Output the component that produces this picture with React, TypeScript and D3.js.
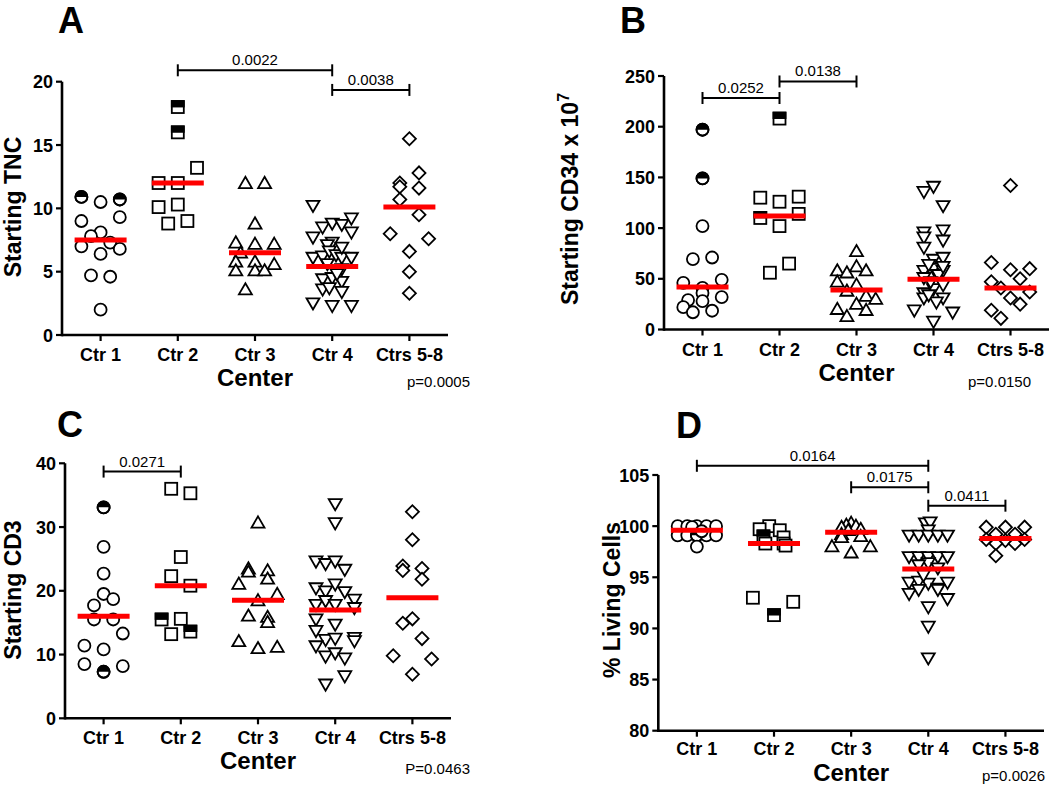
import React from "react";
import * as d3 from "d3";

const categories = ["Ctr 1", "Ctr 2", "Ctr 3", "Ctr 4", "Ctrs 5-8"];
const shapeByCategory = ["circle", "square", "triangle", "triangleDown", "diamond"];

// ---------- Panel A: Starting TNC ----------
const tncValues = [
  [10.9, 10.7, 10.5, 9.0, 9.3, 8.1, 7.8, 7.0, 7.3, 6.8, 6.4, 4.7, 4.6, 2.0],
  [18.0, 16.0, 13.2, 12.0, 12.0, 10.1, 10.3, 8.8, 9.0],
  [11.9, 11.9, 8.7, 7.2, 7.1, 7.1, 6.4, 5.7, 5.7, 5.5, 5.0, 5.0, 5.0, 3.5],
  [10.3, 8.6, 8.9, 8.8, 9.3, 7.8, 7.4, 8.2, 7.2, 6.2, 6.3, 6.7, 6.4, 6.2, 6.2, 5.7, 5.3, 4.5, 4.6, 4.3, 3.7, 3.8, 3.5, 2.6, 2.4, 2.4, 4.9, 7.0],
  [15.5, 12.8, 12.0, 11.7, 11.6, 10.7, 9.5, 8.0, 7.6, 6.6, 5.0, 3.3],
];
const tncJitter = [
  [-2, 2, 0, -2, 2, 0, -1, -2, 1, 2, 0, -1, 1, 0],
  [0, 0, 2, -2, 0, -2, 0, -1, 1],
  [-1, 1, 0, -2, 0, 2, -1.5, -2, 0, 2, -2, 0, 1, -1],
  [-2, -1, 0, 1, 2, -2, 0, 2, -0.5, -2, -1, -0.3, 0.4, 1, 2, -0.5, 1, -1, 0, 1, -1, -0.3, 1, -2, 0, 2, 0.5, 1],
  [0, 1, -1, -1, 1, -1, 1, -2, 2, 0, 0, 0],
];
const tncHalf = [[0, 1], [0, 1], [], [], []];
const tncMedians = [7.5, 12.0, 6.5, 5.4, 10.1];
const tncTicks = [0, 5, 10, 15, 20];
const tncBrackets = [
  { from: 1, to: 3, at: 20.9, label: "0.0022" },
  { from: 3, to: 4, at: 19.35, label: "0.0038" },
];

// ---------- Panel B: Starting CD34 ----------
const cd34Values = [
  [197, 149, 102, 69.5, 71, 46, 49, 41, 36, 29, 32, 28, 22, 17, 18.5],
  [208, 130, 126, 131, 114, 110, 102, 56, 65],
  [76, 57, 55, 61, 57, 46, 43, 37, 32, 29, 19, 24, 18, 12],
  [137, 142, 123, 97, 99, 92, 89, 82, 70, 72, 59, 61, 59, 65, 37, 41, 32, 32, 20, 18, 9, 52, 55, 45, 48, 28, 35, 63],
  [142, 66, 59, 60, 47, 41, 50, 31, 37, 19, 11, 25],
];
const cd34Jitter = [
  [0, 0, 0, -1, 1, -2, 2, 0, 0, -1.5, 2, 0, -2, -1, 1],
  [0, -2, 0, 2, 2, -2, 0, -1, 1],
  [0, -2, -1, 0, 1, -2, 0, -1, 1, 2, -2, 0, 1, -1],
  [-1, 0, 1, -1, 1, -1, 1, -1, 0, 1, -1, 0, 1, -0.5, -1, 0, 1, -1, -2, 2, 0, -1, 0.5, 1, -0.3, 0.3, -0.5, 1],
  [0, -2, 0, 2, -2, -1, 1, 0, 2, -2, -1, 1],
];
const cd34Half = [[0, 1], [0, 5], [], [], []];
const cd34Medians = [42, 112, 39, 49.5, 41];
const cd34Ticks = [0, 50, 100, 150, 200, 250];
const cd34Brackets = [
  { from: 0, to: 1, at: 228.3, label: "0.0252" },
  { from: 1, to: 2, at: 244.6, label: "0.0138" },
];

// ---------- Panel C: Starting CD3 ----------
const cd3Values = [
  [33.1, 26.9, 22.7, 19.5, 18.7, 17.7, 15.5, 15.5, 13.3, 11.4, 10.8, 8.5, 8.2, 7.3],
  [36.0, 35.3, 25.3, 22.3, 20.8, 15.5, 15.6, 13.2, 13.6],
  [30.5, 23.3, 22.8, 23.0, 21.7, 20.9, 19.3, 18.3, 15.9, 15.7, 14.9, 11.9, 10.8, 11.0],
  [33.8, 30.8, 24.8, 24.4, 24.8, 23.5, 20.6, 20.1, 21.2, 20.0, 18.8, 18.0, 18.6, 18.0, 17.5, 15.7, 14.9, 13.9, 12.5, 12.7, 12.8, 12.3, 11.5, 9.9, 10.4, 9.6, 6.8, 5.5],
  [32.4, 28.0, 23.9, 23.2, 23.5, 21.8, 15.6, 14.9, 12.5, 9.8, 9.3, 6.9],
];
const cd3Jitter = [
  [0, 0, 0, 0, 1, -1, -1, 1, 2, -2, 0, -2, 2, 0],
  [-1, 1, 0, -1, 1, -2, 0, -1, 1],
  [0, -1, -1, 1, 1, -2, 2, 0, -1, 1, 1, -2, 0, 2],
  [0, 0, -2, -1, 0, 1, -2, -1, 0, 1, 2, -2, -1, 0, 2, -2, 0, -2, -1, 0, 2, 2, -2, -1, 0, 1, 1, -1],
  [0, 0, -1, -1, 1, 1, 0, -1, 1, -2, 2, 0],
];
const cd3Half = [[0, 13], [5, 8], [], [], []];
const cd3Medians = [16, 20.8, 18.5, 17, 18.9];
const cd3Ticks = [0, 10, 20, 30, 40];
const cd3Brackets = [{ from: 0, to: 1, at: 38.7, label: "0.0271" }];

// ---------- Panel D: % Living Cells ----------
const livingValues = [
  [100, 100, 100, 100, 100, 99.9, 99.1, 99.1, 99.1, 99.1, 99.1, 98.0, 99.5],
  [100, 99.7, 99.6, 99.0, 98.9, 98.3, 98.3, 98.1, 93.0, 91.3, 92.6],
  [100.2, 100.0, 99.9, 99.8, 99.6, 99.5, 99.1, 98.9, 98.8, 97.9, 97.3, 97.9],
  [100.4, 100.5, 99.7, 99.2, 99.2, 99.2, 99.2, 99.2, 97.1, 97.1, 97.1, 97.1, 97.1, 96.5, 96.3, 94.6, 94.7, 94.5, 94.0, 94.6, 95.3, 93.5, 93.9, 93.9, 93.0, 92.2, 90.3, 87.2, 96.0],
  [99.9, 99.9, 99.9, 99.2, 99.2, 98.7, 98.6, 98.7, 98.3, 98.3, 97.1],
];
const livingJitter = [
  [-2, -1, 0, 1, 2, -0.5, -2, -1, 0, 1, 2, 0, 0.5],
  [-0.5, -1.5, 0.6, -1.1, 1, -0.9, 1, 1.2, -2.2, 0, 2],
  [0, -0.5, 0.5, -1, 1, -0.3, -1, 1, -1, -2, 0, 2],
  [-0.3, 0.2, 0, -2, -1, 0, 1, 2, -2, -1, 0, 1, 2, 0, -1, -2, -1, 0, 1, 2, -0.5, -2, -1, 1, 2, 0, 0, 0, 1],
  [-2, 0, 2, -1, 1, -2, 0, 2, -1, 1, -1],
];
const livingHalf = [[8], [3, 9], [], [], []];
const livingMedians = [99.6, 98.3, 99.4, 95.8, 98.8];
const livingTicks = [80, 85, 90, 95, 100, 105];
const livingBrackets = [
  { from: 0, to: 3, at: 105.9, label: "0.0164" },
  { from: 2, to: 3, at: 103.8, label: "0.0175" },
  { from: 3, to: 4, at: 102.0, label: "0.0411" },
];

const FONT = "'Liberation Sans', Arial, Helvetica, sans-serif";
const SLOT = 9.6;

const triPath = d3.symbol(d3.symbolTriangle, 73)() as string;
const diaPath = d3.symbol(d3.symbolSquare, 85)() as string;
const halfCircle = "M -6 0 A 6 6 0 0 1 6 0 Z";

function Marker({ shape, cx, cy, half }: { shape: string; cx: number; cy: number; half: boolean }) {
  const common = { fill: "#fff", stroke: "#000", strokeWidth: 1.8 };
  if (shape === "circle") {
    return (
      <g transform={`translate(${cx},${cy})`}>
        <circle r={6} {...common} />
        {half && <path d={halfCircle} fill="#000" />}
        {half && <circle r={6} fill="none" stroke="#000" strokeWidth={1.8} />}
      </g>
    );
  }
  if (shape === "square") {
    return (
      <g transform={`translate(${cx},${cy})`}>
        <rect x={-6} y={-6} width={12} height={12} {...common} />
        {half && <rect x={-6} y={-6} width={12} height={5.5} fill="#000" stroke="#000" strokeWidth={1.8} />}
      </g>
    );
  }
  if (shape === "triangle") {
    return <path transform={`translate(${cx},${cy})`} d={triPath} {...common} />;
  }
  if (shape === "triangleDown") {
    return <path transform={`translate(${cx},${cy}) rotate(180)`} d={triPath} {...common} />;
  }
  return <path transform={`translate(${cx},${cy}) rotate(45)`} d={diaPath} {...common} />;
}

type Bracket = { from: number; to: number; at: number; label: string };

type PanelCfg = {
  letter: string;
  letterPos: [number, number];
  yLabel: React.ReactNode;
  yLabelPos: [number, number];
  xRange: [number, number];
  yRange: [number, number];
  domain: [number, number];
  ticks: number[];
  values: number[][];
  jitter: number[][];
  half: number[][];
  medians: number[];
  brackets: Bracket[];
  pText: string;
  pPos: [number, number];
  labelDy: number;
  centerDy: number;
};

function Panel({ cfg }: { cfg: PanelCfg }) {
  const x = d3.scalePoint<string>().domain(categories).range(cfg.xRange).padding(0.5);
  const y = d3.scaleLinear().domain(cfg.domain).range(cfg.yRange);
  const x0 = cfg.xRange[0];
  const x1 = cfg.xRange[1];
  const yb = y(cfg.domain[0]);
  const yt = y(cfg.domain[1]);
  const axisW = 2.6;
  return (
    <g>
      <text x={cfg.letterPos[0]} y={cfg.letterPos[1]} fontFamily={FONT} fontWeight="bold" fontSize={36} textAnchor="middle">
        {cfg.letter}
      </text>
      <text
        transform={`translate(${cfg.yLabelPos[0]},${cfg.yLabelPos[1]}) rotate(-90)`}
        fontFamily={FONT}
        fontWeight="bold"
        fontSize={23}
        textAnchor="middle"
      >
        {cfg.yLabel}
      </text>
      {/* y axis */}
      <line x1={x0} x2={x0} y1={yb + axisW / 2} y2={yt} stroke="#000" strokeWidth={axisW} />
      {cfg.ticks.map((t) => (
        <g key={t}>
          <line x1={x0 - 6} x2={x0} y1={y(t)} y2={y(t)} stroke="#000" strokeWidth={2.2} />
          <text x={x0 - 9} y={y(t) + 6.5} fontFamily={FONT} fontWeight="bold" fontSize={18} textAnchor="end">
            {t}
          </text>
        </g>
      ))}
      {/* x axis */}
      <line x1={x0} x2={x1} y1={yb} y2={yb} stroke="#000" strokeWidth={axisW} />
      {categories.map((c) => (
        <g key={c}>
          <line x1={x(c)!} x2={x(c)!} y1={yb} y2={yb + 6} stroke="#000" strokeWidth={2.2} />
          <text x={x(c)!} y={yb + cfg.labelDy} fontFamily={FONT} fontWeight="bold" fontSize={18} textAnchor="middle">
            {c}
          </text>
        </g>
      ))}
      <text x={(x0 + x1) / 2} y={yb + cfg.centerDy} fontFamily={FONT} fontWeight="bold" fontSize={24} textAnchor="middle">
        Center
      </text>
      <text x={cfg.pPos[0]} y={cfg.pPos[1]} fontFamily={FONT} fontSize={15} textAnchor="end">
        {cfg.pText}
      </text>
      {/* points */}
      {cfg.values.map((vals, ci) =>
        vals.map((v, pi) => (
          <Marker
            key={`${ci}-${pi}`}
            shape={shapeByCategory[ci]}
            cx={x(categories[ci])! + cfg.jitter[ci][pi] * SLOT}
            cy={y(v)}
            half={cfg.half[ci].includes(pi)}
          />
        ))
      )}
      {/* medians */}
      {cfg.medians.map((m, ci) => (
        <line
          key={`m${ci}`}
          x1={x(categories[ci])! - 26}
          x2={x(categories[ci])! + 26}
          y1={y(m)}
          y2={y(m)}
          stroke="#ff0000"
          strokeWidth={5}
        />
      ))}
      {/* brackets */}
      {cfg.brackets.map((b, bi) => {
        const bx1 = x(categories[b.from])!;
        const bx2 = x(categories[b.to])!;
        const by = y(b.at);
        return (
          <g key={`b${bi}`}>
            <line x1={bx1} x2={bx2} y1={by} y2={by} stroke="#000" strokeWidth={2} />
            <line x1={bx1} x2={bx1} y1={by - 6} y2={by + 6} stroke="#000" strokeWidth={2} />
            <line x1={bx2} x2={bx2} y1={by - 6} y2={by + 6} stroke="#000" strokeWidth={2} />
            <text x={(bx1 + bx2) / 2} y={by - 5} fontFamily={FONT} fontSize={15} textAnchor="middle">
              {b.label}
            </text>
          </g>
        );
      })}
    </g>
  );
}

const panels: PanelCfg[] = [
  {
    letter: "A",
    letterPos: [71, 33],
    yLabel: "Starting TNC",
    yLabelPos: [21, 207],
    xRange: [62, 448],
    yRange: [335, 81.7],
    domain: [0, 20],
    ticks: tncTicks,
    values: tncValues,
    jitter: tncJitter,
    half: tncHalf,
    medians: tncMedians,
    brackets: tncBrackets,
    pText: "p=0.0005",
    pPos: [470, 387],
    labelDy: 26,
    centerDy: 51,
  },
  {
    letter: "B",
    letterPos: [633, 33],
    yLabel: (
      <>
        Starting CD34 x 10
        <tspan fontSize={16} dy={-9}>
          7
        </tspan>
      </>
    ),
    yLabelPos: [578, 199],
    xRange: [664, 1049],
    yRange: [329.5, 76],
    domain: [0, 250],
    ticks: cd34Ticks,
    values: cd34Values,
    jitter: cd34Jitter,
    half: cd34Half,
    medians: cd34Medians,
    brackets: cd34Brackets,
    pText: "p=0.0150",
    pPos: [1031, 387],
    labelDy: 26,
    centerDy: 51,
  },
  {
    letter: "C",
    letterPos: [70, 437],
    yLabel: "Starting CD3",
    yLabelPos: [21, 590],
    xRange: [65, 451],
    yRange: [718.3, 463.3],
    domain: [0, 40],
    ticks: cd3Ticks,
    values: cd3Values,
    jitter: cd3Jitter,
    half: cd3Half,
    medians: cd3Medians,
    brackets: cd3Brackets,
    pText: "P=0.0463",
    pPos: [470, 774],
    labelDy: 26,
    centerDy: 51,
  },
  {
    letter: "D",
    letterPos: [689, 438],
    yLabel: "% Living Cells",
    yLabelPos: [620, 600],
    xRange: [658.3, 1044],
    yRange: [730.7, 475],
    domain: [80, 105],
    ticks: livingTicks,
    values: livingValues,
    jitter: livingJitter,
    half: livingHalf,
    medians: livingMedians,
    brackets: livingBrackets,
    pText: "p=0.0026",
    pPos: [1045, 781],
    labelDy: 24,
    centerDy: 49.8,
  },
];

export default function App() {
  return (
    <svg
      width={1050}
      height={786}
      viewBox="0 0 1050 786"
      style={{ position: "absolute", left: 0, top: 0, background: "#fff" }}
    >
      <rect width={1050} height={786} fill="#fff" />
      {panels.map((p) => (
        <Panel key={p.letter} cfg={p} />
      ))}
    </svg>
  );
}
